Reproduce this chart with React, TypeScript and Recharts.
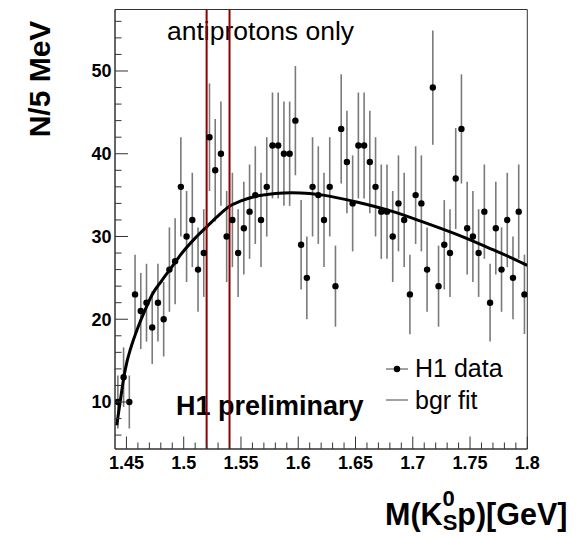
import React from 'react';
import {
  ComposedChart,
  Scatter,
  Line,
  XAxis,
  YAxis,
  ReferenceLine,
  ReferenceArea,
  ErrorBar,
} from 'recharts';

// Bin centres of the K0S p invariant mass histogram (GeV)
const massBins = [
  1.4425, 1.4475, 1.4525, 1.4575, 1.4625, 1.4675, 1.4725, 1.4775, 1.4825, 1.4875,
  1.4925, 1.4975, 1.5025, 1.5075, 1.5125, 1.5175, 1.5225, 1.5275, 1.5325, 1.5375,
  1.5425, 1.5475, 1.5525, 1.5575, 1.5625, 1.5675, 1.5725, 1.5775, 1.5825, 1.5875,
  1.5925, 1.5975, 1.6025, 1.6075, 1.6125, 1.6175, 1.6225, 1.6275, 1.6325, 1.6375,
  1.6425, 1.6475, 1.6525, 1.6575, 1.6625, 1.6675, 1.6725, 1.6775, 1.6825, 1.6875,
  1.6925, 1.6975, 1.7025, 1.7075, 1.7125, 1.7175, 1.7225, 1.7275, 1.7325, 1.7375,
  1.7425, 1.7475, 1.7525, 1.7575, 1.7625, 1.7675, 1.7725, 1.7775, 1.7825, 1.7875,
  1.7925, 1.7975,
];

// Entries per 5 MeV bin (H1 data)
const counts = [
  10, 13, 10, 23, 21, 22, 19, 22, 20, 26,
  27, 36, 30, 32, 26, 28, 42, 38, 40, 30,
  32, 28, 31, 33, 35, 32, 36, 41, 41, 40,
  40, 44, 29, 25, 36, 35, 32, 36, 24, 43,
  39, 34, 41, 41, 39, 36, 33, 33, 30, 34,
  32, 23, 35, 34, 26, 48, 24, 29, 28, 37,
  43, 31, 30, 28, 33, 22, 31, 26, 32, 25,
  33, 23,
];

// Statistical error half-lengths
const countErrors = [
  3.2, 3.6, 3.2, 4.8, 4.6, 4.7, 4.4, 4.7, 4.5, 5.1,
  5.2, 6.0, 5.5, 5.7, 5.1, 5.3, 6.5, 6.2, 6.3, 5.5,
  5.7, 5.3, 5.6, 5.7, 5.9, 5.7, 6.0, 6.4, 6.4, 6.3,
  6.3, 6.6, 5.4, 5.0, 6.0, 5.9, 5.7, 6.0, 4.9, 6.6,
  6.2, 5.8, 6.4, 6.4, 6.2, 6.0, 5.7, 5.7, 5.5, 5.8,
  5.7, 4.8, 5.9, 5.8, 5.1, 6.9, 4.9, 5.4, 5.3, 6.1,
  6.6, 5.6, 5.5, 5.3, 5.7, 4.7, 5.6, 5.1, 5.7, 5.0,
  5.7, 4.8,
];

// Background fit curve
const fitMass = [
  1.4415, 1.4445, 1.4475, 1.4505, 1.4535, 1.46, 1.4665, 1.4725, 1.481, 1.49,
  1.4985, 1.51, 1.5203, 1.53, 1.5393, 1.55, 1.5614, 1.58, 1.5946, 1.61,
  1.6217, 1.65, 1.6828, 1.71, 1.7448, 1.77, 1.7972, 1.8,
];
const fitValues = [
  7.2, 10.0, 12.8, 14.9, 16.4, 19.0, 21.2, 23.0, 24.7, 26.4,
  28.0, 29.8, 31.2, 32.5, 33.6, 34.3, 34.8, 35.2, 35.3, 35.2,
  35.0, 34.2, 33.0, 31.7, 29.9, 28.4, 26.7, 26.5,
];

const xMajorTicks = [1.45, 1.5, 1.55, 1.6, 1.65, 1.7, 1.75, 1.8];
const xMinorTicks = [
  1.46, 1.47, 1.48, 1.49, 1.51, 1.52, 1.53, 1.54, 1.56, 1.57, 1.58, 1.59,
  1.61, 1.62, 1.63, 1.64, 1.66, 1.67, 1.68, 1.69, 1.71, 1.72, 1.73, 1.74,
  1.76, 1.77, 1.78, 1.79,
];
const yMajorTicks = [10, 20, 30, 40, 50];
const yMinorTicks = [6, 8, 12, 14, 16, 18, 22, 24, 26, 28, 32, 34, 36, 38, 42, 44, 46, 48, 52, 54, 56];
const signalWindow = [1.52, 1.54];
const xDomain = [1.44, 1.8];
const yDomain = [4.32, 57.43];

const dataRows = massBins.map((m, i) => ({ m, n: counts[i], err: countErrors[i] }));
const fitRows = fitMass.map((m, i) => ({ m, fit: fitValues[i] }));

const FONT = '"Liberation Sans", Arial, Helvetica, sans-serif';
const AXIS_COLOR = '#333';

const isIn = (arr: number[], v: number) => arr.some((t) => Math.abs(t - v) < 1e-6);

const XTick = (props: any) => {
  const { x, y, payload } = props;
  const v = payload.value;
  const major = isIn(xMajorTicks, v);
  return (
    <g>
      <line x1={x} y1={y} x2={x} y2={y - (major ? 12.5 : 6.5)} stroke={AXIS_COLOR} strokeWidth={1} />
      {major && (
        <text x={x} y={y + 20} textAnchor="middle" fontFamily={FONT} fontWeight="bold" fontSize={18} fill="#000">
          {String(v)}
        </text>
      )}
    </g>
  );
};

const YTick = (props: any) => {
  const { x, y, payload } = props;
  const v = payload.value;
  const major = isIn(yMajorTicks, v);
  return (
    <g>
      <line x1={x} y1={y} x2={x + (major ? 13 : 6.5)} y2={y} stroke={AXIS_COLOR} strokeWidth={1} />
      {major && (
        <text x={x - 3.5} y={y} dy="0.36em" textAnchor="end" fontFamily={FONT} fontWeight="bold" fontSize={18} fill="#000">
          {String(v)}
        </text>
      )}
    </g>
  );
};

const Dot = (p: any) => <circle cx={p.cx} cy={p.cy} r={3.2} fill="#000" />;

export default function App() {
  return (
    <div style={{ position: 'absolute', left: 0, top: 0, width: 583, height: 536, background: '#fff' }}>
      <ComposedChart
        width={583}
        height={536}
        data={dataRows}
        margin={{ top: 9.5, right: 55.7, bottom: 57, left: 55 }}
      >
        <XAxis
          dataKey="m"
          type="number"
          domain={xDomain}
          allowDataOverflow
          ticks={[...xMajorTicks, ...xMinorTicks]}
          interval={0}
          tick={<XTick />}
          tickLine={false}
          tickSize={0}
          tickMargin={0}
          height={30}
          axisLine={{ stroke: AXIS_COLOR }}
        />
        <YAxis
          type="number"
          domain={yDomain}
          allowDataOverflow
          ticks={[...yMajorTicks, ...yMinorTicks]}
          interval={0}
          tick={<YTick />}
          tickLine={false}
          tickSize={0}
          tickMargin={0}
          width={60}
          axisLine={{ stroke: AXIS_COLOR }}
        />
        <ReferenceArea
          x1={xDomain[0]}
          x2={xDomain[1]}
          y1={yDomain[0]}
          y2={yDomain[1]}
          fill="none"
          stroke={AXIS_COLOR}
          strokeWidth={1}
          ifOverflow="visible"
        />
        <Scatter data={dataRows} dataKey="n" shape={<Dot />} isAnimationActive={false}>
          <ErrorBar dataKey="err" direction="y" width={0} stroke="#7a7a7a" strokeWidth={1.6} />
        </Scatter>
        <Line
          data={fitRows}
          dataKey="fit"
          type="monotone"
          dot={false}
          stroke="#000"
          strokeWidth={3}
          isAnimationActive={false}
        />
        {signalWindow.map((v) => (
          <ReferenceLine key={v} x={v} stroke="#8b0000" strokeWidth={2} />
        ))}

        {/* annotations */}
        <text x={167} y={39.5} fontFamily={FONT} fontSize={26.5} fill="#000">antiprotons only</text>
        <text x={176} y={415} fontFamily={FONT} fontWeight="bold" fontSize={27} fill="#000">H1 preliminary</text>

        {/* legend */}
        <line x1={386} y1={369} x2={408} y2={369} stroke="#444" strokeWidth={1} />
        <circle cx={397} cy={369} r={3.2} fill="#000" />
        <text x={415} y={377.3} fontFamily={FONT} fontSize={25} fill="#000">H1 data</text>
        <line x1={386} y1={400} x2={408} y2={400} stroke="#444" strokeWidth={1} />
        <text x={415} y={409} fontFamily={FONT} fontSize={25} fill="#000">bgr fit</text>

        {/* axis titles */}
        <text
          x={50}
          y={79}
          transform="rotate(-90, 50, 79)"
          textAnchor="middle"
          fontFamily={FONT}
          fontWeight="bold"
          fontSize={30}
          fill="#000"
        >
          N/5 MeV
        </text>
        <text x={385} y={525} fontFamily={FONT} fontWeight="bold" fontSize={30.5} fill="#000">
          M(K
          <tspan fontSize={22} dy={-19}>0</tspan>
          <tspan fontSize={22} dx={-12.2} dy={24}>S</tspan>
          <tspan dy={-5}>p)[GeV]</tspan>
        </text>
      </ComposedChart>
    </div>
  );
}
